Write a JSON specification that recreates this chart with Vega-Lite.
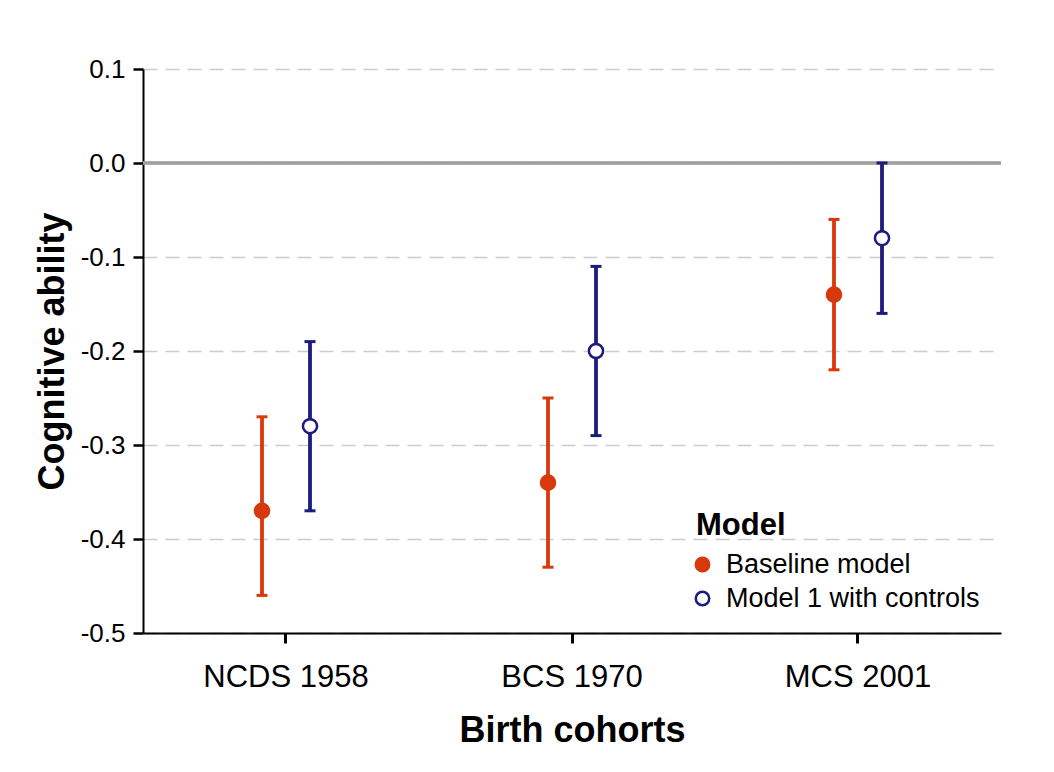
{
  "$schema": "https://vega.github.io/schema/vega-lite/v6.json",
  "autosize": "none",
  "width": 858,
  "height": 564,
  "padding": {"left": 143, "top": 69, "right": 53, "bottom": 139},
  "background": "white",
  "data": {
    "values": [
      {"Cohort": "NCDS 1958", "Model": "Baseline model", "estimate": -0.37, "lower": -0.46, "upper": -0.27},
      {"Cohort": "NCDS 1958", "Model": "Model 1 with controls", "estimate": -0.28, "lower": -0.37, "upper": -0.19},
      {"Cohort": "BCS 1970", "Model": "Baseline model", "estimate": -0.34, "lower": -0.43, "upper": -0.25},
      {"Cohort": "BCS 1970", "Model": "Model 1 with controls", "estimate": -0.20, "lower": -0.29, "upper": -0.11},
      {"Cohort": "MCS 2001", "Model": "Baseline model", "estimate": -0.14, "lower": -0.22, "upper": -0.06},
      {"Cohort": "MCS 2001", "Model": "Model 1 with controls", "estimate": -0.08, "lower": -0.16, "upper": 0.00}
    ]
  },
  "encoding": {
    "x": {
      "field": "Cohort",
      "type": "nominal",
      "sort": ["NCDS 1958", "BCS 1970", "MCS 2001"],
      "scale": {"type": "band", "paddingInner": 0.6643, "paddingOuter": 0.33215},
      "axis": {
        "title": "Birth cohorts",
        "titleFontSize": 36,
        "titleFontWeight": "bold",
        "titleColor": "black",
        "titlePadding": 21,
        "labelFontSize": 31,
        "labelColor": "black",
        "labelPadding": 19,
        "labelAngle": 0,
        "tickSize": 10,
        "tickWidth": 3,
        "tickColor": "black",
        "domainColor": "black",
        "domainWidth": 2,
        "bandPosition": 0.5,
        "grid": false
      }
    },
    "xOffset": {
      "field": "Model",
      "type": "nominal",
      "scale": {"paddingInner": 0, "paddingOuter": 0}
    }
  },
  "layer": [
    {
      "mark": {"type": "rule", "color": "#a0a0a0", "strokeWidth": 2.5},
      "encoding": {
        "x": null,
        "xOffset": null,
        "y": {"datum": 0, "type": "quantitative"}
      }
    },
    {
      "mark": {"type": "rule", "strokeWidth": 3.8},
      "encoding": {
        "y": {
          "field": "lower",
          "type": "quantitative",
          "scale": {"domain": [-0.5, 0.1], "nice": false, "zero": false},
          "axis": {
            "title": "Cognitive ability",
            "titleFontSize": 36,
            "titleFontWeight": "bold",
            "titleColor": "black",
            "titlePadding": 9,
            "values": [-0.5, -0.4, -0.3, -0.2, -0.1, 0, 0.1],
            "labelExpr": "replace(format(datum.value, '.1f'), '\u2212', '-')",
            "labelFontSize": 26,
            "labelColor": "black",
            "labelPadding": 8,
            "tickSize": 10,
            "tickWidth": 2.5,
            "tickColor": "black",
            "domainColor": "black",
            "domainWidth": 2,
            "grid": true,
            "gridColor": "#cccccc",
            "gridWidth": 1.3,
            "gridDash": [14, 8]
          }
        },
        "y2": {"field": "upper"},
        "color": {
          "field": "Model",
          "type": "nominal",
          "scale": {"domain": ["Model 1 with controls", "Baseline model"], "range": ["#1b1b80", "#d7390c"]},
          "legend": null
        }
      }
    },
    {
      "mark": {"type": "tick", "orient": "horizontal", "size": 11, "thickness": 3, "opacity": 1},
      "encoding": {
        "y": {"field": "lower", "type": "quantitative"},
        "color": {
          "field": "Model",
          "type": "nominal",
          "scale": {"domain": ["Model 1 with controls", "Baseline model"], "range": ["#1b1b80", "#d7390c"]},
          "legend": null
        }
      }
    },
    {
      "mark": {"type": "tick", "orient": "horizontal", "size": 11, "thickness": 3, "opacity": 1},
      "encoding": {
        "y": {"field": "upper", "type": "quantitative"},
        "color": {
          "field": "Model",
          "type": "nominal",
          "scale": {"domain": ["Model 1 with controls", "Baseline model"], "range": ["#1b1b80", "#d7390c"]},
          "legend": null
        }
      }
    },
    {
      "mark": {"type": "point", "shape": "circle", "filled": true, "size": 200, "strokeWidth": 2.5, "opacity": 1},
      "encoding": {
        "y": {"field": "estimate", "type": "quantitative"},
        "fill": {
          "field": "Model",
          "type": "nominal",
          "scale": {"domain": ["Baseline model", "Model 1 with controls"], "range": ["#d7390c", "#ffffff"]},
          "legend": {
            "title": "Model",
            "orient": "none",
            "legendX": 553,
            "legendY": 442,
            "padding": 0,
            "titleFontSize": 31,
            "titleFontWeight": "bold",
            "titleColor": "black",
            "titlePadding": 9,
            "labelFontSize": 27,
            "labelColor": "black",
            "labelLimit": 0,
            "labelOffset": 10,
            "symbolSize": 180,
            "symbolStrokeWidth": 2.5,
            "symbolOpacity": 1,
            "symbolOffset": -7,
            "rowPadding": 6
          }
        },
        "stroke": {
          "field": "Model",
          "type": "nominal",
          "scale": {"domain": ["Baseline model", "Model 1 with controls"], "range": ["#d7390c", "#1b1b80"]},
          "legend": {
            "title": "Model",
            "orient": "none",
            "legendX": 553,
            "legendY": 442,
            "padding": 0,
            "titleFontSize": 31,
            "titleFontWeight": "bold",
            "titleColor": "black",
            "titlePadding": 9,
            "labelFontSize": 27,
            "labelColor": "black",
            "labelLimit": 0,
            "labelOffset": 10,
            "symbolSize": 180,
            "symbolStrokeWidth": 2.5,
            "symbolOpacity": 1,
            "symbolOffset": -7,
            "rowPadding": 6
          }
        }
      }
    }
  ],
  "config": {
    "font": "Liberation Sans",
    "view": {"stroke": null},
    "axis": {"labelFont": "Liberation Sans", "titleFont": "Liberation Sans"},
    "legend": {"labelFont": "Liberation Sans", "titleFont": "Liberation Sans"}
  }
}
